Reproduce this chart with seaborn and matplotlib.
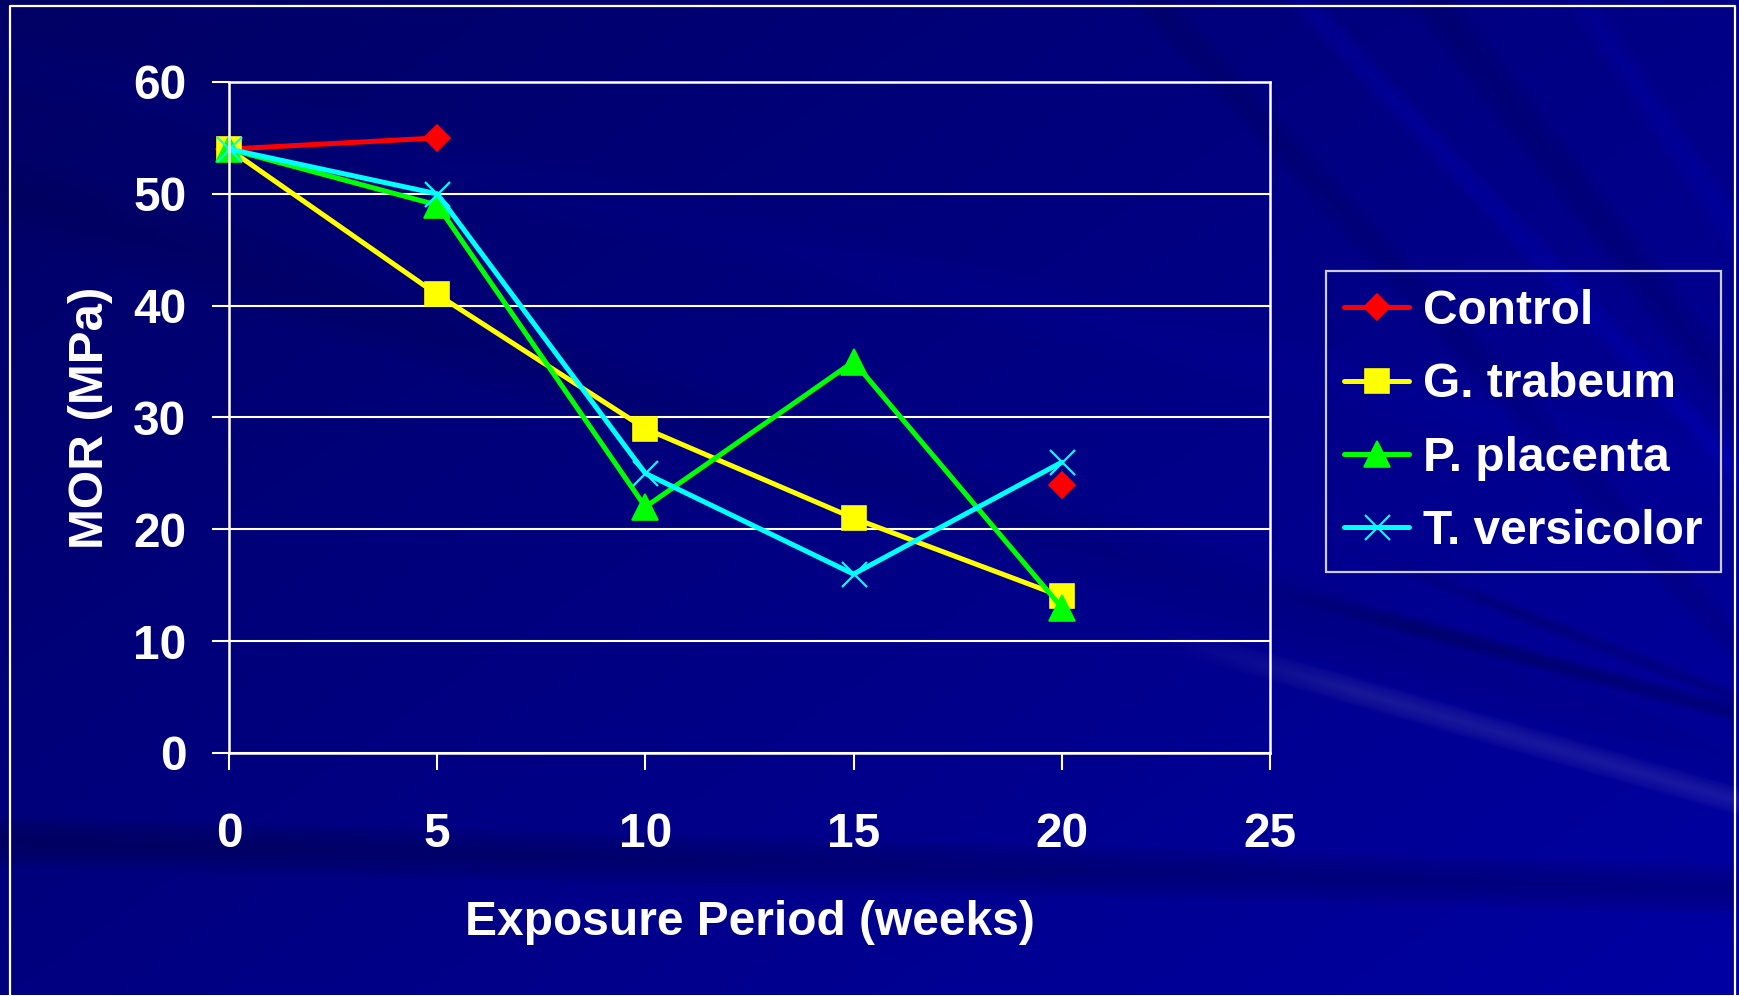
import numpy as np
import pandas as pd
import matplotlib
matplotlib.use("Agg")
import matplotlib.pyplot as plt
import seaborn as sns

# ---- data ----
weeks = [0, 5, 10, 15, 20]
control = [54, 55, np.nan, np.nan, 24]
g_trabeum = [54, 41, 29, 21, 14]
p_placenta = [54, 49, 22, 35, 13]
t_versicolor = [54, 50, 25, 16, 26]

series_names = ["Control", "G. trabeum", "P. placenta", "T. versicolor"]
series_values = [control, g_trabeum, p_placenta, t_versicolor]
series_colors = ["#ff0000", "#ffff00", "#00ff00", "#00ffff"]
series_markers = ["D", "s", "^", "x"]
series_msize = [13, 17, 19, 18]

x_ticks = [0, 5, 10, 15, 20, 25]
y_ticks = [0, 10, 20, 30, 40, 50, 60]

sns.set_theme(style="white")
plt.rcParams["font.family"] = ["Liberation Sans", "DejaVu Sans"]
plt.rcParams["font.weight"] = "bold"

W, H = 1739, 996
fig = plt.figure(figsize=(W / 100, H / 100), dpi=100)

# ---- slide background: blue gradient with soft diagonal rays ----
yy, xx = np.mgrid[0:H, 0:W].astype(float)
t = np.clip(0.55 * xx / W + 0.45 * yy / H, 0, 1)
blue = 100 + 62 * t
rg = np.zeros_like(blue)


def ray(x0, y0, x1, y1, hw, db, drg=0.0, xfade=None):
    dx, dy = x1 - x0, y1 - y0
    n = np.hypot(dx, dy)
    d = np.abs((xx - x0) * dy - (yy - y0) * dx) / n
    prof = np.clip(1 - d / hw, 0, 1) ** 0.6
    if xfade is not None:
        a, b = xfade
        prof = prof * np.clip((xx - a) / (b - a), 0, 1)
    return prof * db, prof * drg


bands = [
    (1250, 662, 1739, 802, 14, 6, 24, (1150, 1350)),
    (1300, 598, 1739, 714, 10, -32, 0, (1250, 1420)),
    (1380, 560, 1739, 700, 8, -22, 0, (1350, 1500)),
    (0, 842, 1200, 875, 26, -28, 0, None),
    (1300, 0, 1560, 280, 14, 18, 0, None),
    (1430, 0, 1660, 300, 22, -16, 0, None),
    (1580, 0, 1739, 240, 16, 14, 0, None),
    (1150, 0, 1450, 330, 18, -14, 0, None),
    (0, 190, 1739, 760, 40, -10, 0, None),
    (0, 60, 1500, 420, 30, 6, 0, None),
]
for b in bands:
    db, drg = ray(*b)
    blue += db
    rg += drg

bg = np.dstack([rg, rg, blue]) / 255.0
bg = np.clip(bg, 0, 1)
bg_ax = fig.add_axes([0, 0, 1, 1])
bg_ax.imshow(bg, aspect="auto", interpolation="bilinear")
bg_ax.set_axis_off()
bg_ax.set_zorder(0)

# slide frame line (left, top, right)
bg_ax.plot([10, 10, 1735, 1735], [H + 5, 6, 6, H + 5], color="white", lw=1.6)
bg_ax.set_xlim(0, W)
bg_ax.set_ylim(H, 0)

# ---- chart ----
left, right, top, bottom = 229, 1270, 82, 753
ax = fig.add_axes([left / W, 1 - bottom / H, (right - left) / W, (bottom - top) / H])
ax.set_zorder(1)
ax.set_facecolor("none")

df = pd.DataFrame({"weeks": weeks})
for name, vals, col, mk, ms in zip(series_names, series_values,
                                   series_colors, series_markers, series_msize):
    df[name] = vals
    if np.isnan(vals).any():
        ax.plot(weeks, vals, color=col, lw=3.6, marker=mk, markersize=ms,
                markeredgecolor=col, markeredgewidth=1.2 if mk != "x" else 1.6,
                label=name, clip_on=False)
    else:
        sns.lineplot(data=df, x="weeks", y=name, ax=ax, color=col, lw=3.6,
                     marker=mk, markersize=ms, markeredgecolor=col,
                     markeredgewidth=1.2 if mk != "x" else 1.6,
                     label=name, clip_on=False)

ax.set_xlim(0, 25)
ax.set_ylim(0, 60)
ax.set_xticks(x_ticks)
ax.set_yticks(y_ticks)
ax.set_xticklabels([str(v) for v in x_ticks])
ax.set_yticklabels([str(v) for v in y_ticks])

ax.yaxis.grid(True, color="white", lw=1.5)
ax.xaxis.grid(False)
for s in ax.spines.values():
    s.set_color("white")
    s.set_linewidth(1.8)

ax.tick_params(axis="both", colors="white", labelcolor="white",
               direction="out", length=12.5, width=1.5, labelsize=34.5)
ax.tick_params(axis="x", pad=30)
ax.tick_params(axis="y", pad=18)
ax.tick_params(left=True, bottom=True)
for lbl in ax.get_xticklabels() + ax.get_yticklabels():
    lbl.set_fontweight("bold")

ax.set_xlabel("Exposure Period (weeks)", color="white", fontsize=34.5,
              fontweight="bold")
ax.set_ylabel("MOR (MPa)", color="white", fontsize=35.5, fontweight="bold")
ax.xaxis.set_label_coords(0.5, (H - 900 - (H - bottom)) / (bottom - top))
ax.yaxis.set_label_coords((113 - left) / (right - left), 0.5)

leg = ax.legend(loc="upper left",
                bbox_to_anchor=(1326 / W, 1 - 271 / H),
                bbox_transform=fig.transFigure, borderaxespad=0,
                frameon=True, fancybox=False,
                handlelength=1.36, handletextpad=0.28, borderpad=0.38,
                labelspacing=0.59, prop={"weight": "bold", "size": 34.5})
leg.get_frame().set_facecolor("none")
leg.get_frame().set_edgecolor("white")
leg.get_frame().set_linewidth(1.6)
for txt in leg.get_texts():
    txt.set_color("white")

fig.savefig("out.png", dpi=100)
